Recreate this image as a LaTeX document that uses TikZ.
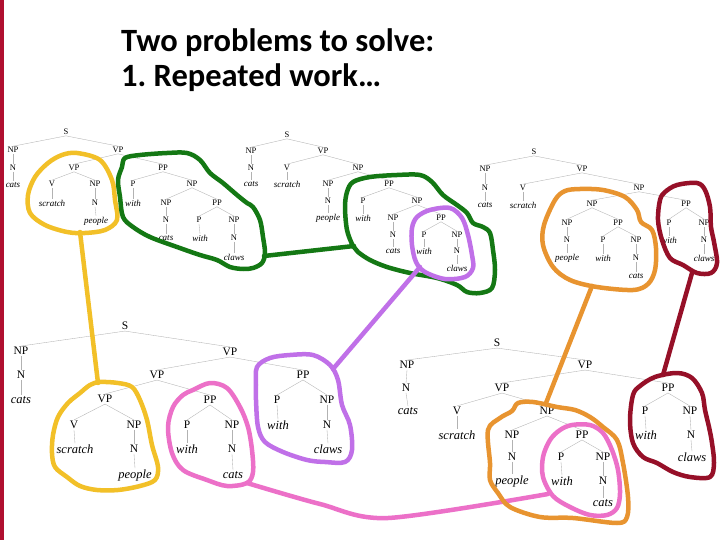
\documentclass[tikz,border=0pt]{standalone}
\usepackage{fontspec}
\setmainfont{Liberation Serif}
\newfontfamily\titlefont{Carlito}
\frenchspacing
\definecolor{barred}{RGB}{176,16,48}
\definecolor{cyel}{RGB}{242,192,40}
\definecolor{cgrn}{RGB}{20,120,20}
\definecolor{cpur}{RGB}{192,112,232}
\definecolor{cpnk}{RGB}{236,112,200}
\definecolor{corg}{RGB}{232,148,48}
\definecolor{cdrd}{RGB}{150,16,40}
\tikzset{
 lab/.style={inner sep=0.8pt, font=\fontsize{8.5}{9}\selectfont},
 wrd/.style={inner sep=0.8pt, font=\fontsize{9}{10}\selectfont\itshape},
 Lab/.style={inner sep=1pt, font=\fontsize{11.5}{12}\selectfont},
 Wrd/.style={inner sep=1pt, font=\fontsize{12.5}{13}\selectfont\itshape},
 edge/.style={draw=gray!60, line width=0.35pt},
 blob/.style={line width=4.5pt, line join=round, line cap=round},
 ttl/.style={anchor=base west, inner sep=0pt, font=\titlefont\bfseries\fontsize{32.5}{36}\selectfont}
}
\begin{document}
\begin{tikzpicture}[x=1pt,y=-1pt]
\useasboundingbox (0,0) rectangle (720,540);
\fill[white] (0,0) rectangle (720,540);
\fill[barred] (0,0) rectangle (4,540);
\node[ttl] (t1) at (121,52) {Two problems to solve:};
\node[ttl] (t2) at (121,87) {1. Repeated work\ldots};

% ---------- tree a ----------
\node[lab] (aS) at (66,132) {S};
\node[lab] (aNP) at (13,150) {NP};
\node[lab] (aVP) at (118,150) {VP};
\node[lab] (aN) at (13,168) {N};
\node[lab] (aVPb) at (74,168) {VP};
\node[lab] (aPP) at (163,168) {PP};
\node[wrd] (acats) at (13,185) {cats};
\node[lab] (aV) at (52,184) {V};
\node[lab] (aNPb) at (95,184) {NP};
\node[lab] (aP) at (133,184) {P};
\node[lab] (aNPc) at (192,184) {NP};
\node[wrd] (ascratch) at (52,203) {scratch};
\node[lab] (aNb) at (95,203) {N};
\node[wrd] (awith) at (133,203) {with};
\node[lab] (aNPd) at (166,203) {NP};
\node[lab] (aPPb) at (217,203) {PP};
\node[wrd] (apeople) at (96,221) {people};
\node[lab] (aNc) at (166,220) {N};
\node[lab] (aPb) at (199,220) {P};
\node[lab] (aNPe) at (234,220) {NP};
\node[wrd] (acatsb) at (166,238) {cats};
\node[wrd] (awithb) at (200,238) {with};
\node[lab] (aNd) at (234,238) {N};
\node[wrd] (aclaws) at (234,257) {claws};
\foreach \p/\c in {aS/aNP,aS/aVP,aNP/aN,aN/acats,aVP/aVPb,aVP/aPP,aVPb/aV,aVPb/aNPb,aV/ascratch,aNPb/aNb,aNb/apeople,aPP/aP,aPP/aNPc,aP/awith,aNPc/aNPd,aNPc/aPPb,aNPd/aNc,aNc/acatsb,aPPb/aPb,aPPb/aNPe,aPb/awithb,aNPe/aNd,aNd/aclaws}
 \draw[edge] (\p.south) -- (\c.north);

% ---------- tree b ----------
\node[lab] (bS) at (287,135) {S};
\node[lab] (bNP) at (251,151) {NP};
\node[lab] (bVP) at (323,151) {VP};
\node[lab] (bN) at (251,168) {N};
\node[lab] (bV) at (287,168) {V};
\node[lab] (bNPb) at (358,168) {NP};
\node[wrd] (bcats) at (251,184) {cats};
\node[wrd] (bscratch) at (287,184) {scratch};
\node[lab] (bNPc) at (328,184) {NP};
\node[lab] (bPP) at (389,184) {PP};
\node[lab] (bNb) at (328,201) {N};
\node[lab] (bP) at (363,201) {P};
\node[lab] (bNPd) at (417,201) {NP};
\node[wrd] (bpeople) at (328,218) {people};
\node[wrd] (bwith) at (363,218) {with};
\node[lab] (bNPe) at (393,218) {NP};
\node[lab] (bPPb) at (441,218) {PP};
\node[lab] (bNc) at (393,235) {N};
\node[lab] (bPb) at (424,235) {P};
\node[lab] (bNPf) at (457,235) {NP};
\node[wrd] (bcatsb) at (393,251) {cats};
\node[wrd] (bwithb) at (424,251) {with};
\node[lab] (bNd) at (457,251) {N};
\node[wrd] (bclaws) at (457,268) {claws};
\foreach \p/\c in {bS/bNP,bS/bVP,bNP/bN,bN/bcats,bVP/bV,bVP/bNPb,bV/bscratch,bNPb/bNPc,bNPb/bPP,bNPc/bNb,bNb/bpeople,bPP/bP,bPP/bNPd,bP/bwith,bNPd/bNPe,bNPd/bPPb,bNPe/bNc,bNc/bcatsb,bPPb/bPb,bPPb/bNPf,bPb/bwithb,bNPf/bNd,bNd/bclaws}
 \draw[edge] (\p.south) -- (\c.north);

% ---------- tree c ----------
\node[lab] (cS) at (534,152) {S};
\node[lab] (cNP) at (485,169) {NP};
\node[lab] (cVP) at (582,169) {VP};
\node[lab] (cN) at (485,188) {N};
\node[lab] (cV) at (523,188) {V};
\node[lab] (cNPb) at (639,188) {NP};
\node[wrd] (ccats) at (485,205) {cats};
\node[wrd] (cscratch) at (523,205) {scratch};
\node[lab] (cNPc) at (592,204) {NP};
\node[lab] (cPP) at (686,204) {PP};
\node[lab] (cNPd) at (567,223) {NP};
\node[lab] (cPPb) at (618,223) {PP};
\node[lab] (cP) at (669,223) {P};
\node[lab] (cNPe) at (704,223) {NP};
\node[lab] (cNb) at (567,240) {N};
\node[lab] (cPb) at (603,240) {P};
\node[lab] (cNPf) at (636,240) {NP};
\node[wrd] (cwith) at (669,240) {with};
\node[lab] (cNc) at (704,240) {N};
\node[wrd] (cpeople) at (567,258) {people};
\node[wrd] (cwithb) at (603,258) {with};
\node[lab] (cNd) at (636,258) {N};
\node[wrd] (cclaws) at (704,258) {claws};
\node[wrd] (ccatsb) at (636,276) {cats};
\foreach \p/\c in {cS/cNP,cS/cVP,cNP/cN,cN/ccats,cVP/cV,cVP/cNPb,cV/cscratch,cNPb/cNPc,cNPb/cPP,cNPc/cNPd,cNPc/cPPb,cNPd/cNb,cNb/cpeople,cPPb/cPb,cPPb/cNPf,cPb/cwithb,cNPf/cNd,cNd/ccatsb,cPP/cP,cPP/cNPe,cP/cwith,cNPe/cNc,cNc/cclaws}
 \draw[edge] (\p.south) -- (\c.north);

% ---------- tree d ----------
\node[Lab] (dS) at (125,326) {S};
\node[Lab] (dNP) at (21,351) {NP};
\node[Lab] (dVP) at (230,352) {VP};
\node[Lab] (dN) at (21,375) {N};
\node[Lab] (dVPb) at (157,375) {VP};
\node[Lab] (dPP) at (303,375) {PP};
\node[Wrd] (dcats) at (21,400) {cats};
\node[Lab] (dVPc) at (105,399) {VP};
\node[Lab] (dPPb) at (210,400) {PP};
\node[Lab] (dP) at (277,400) {P};
\node[Lab] (dNPb) at (327,400) {NP};
\node[Lab] (dV) at (74,425) {V};
\node[Lab] (dNPc) at (134,425) {NP};
\node[Lab] (dPb) at (187,425) {P};
\node[Lab] (dNPd) at (232,425) {NP};
\node[Wrd] (dwith) at (278,425) {with};
\node[Lab] (dNb) at (327,425) {N};
\node[Wrd] (dscratch) at (75,449) {scratch};
\node[Lab] (dNc) at (134,449) {N};
\node[Wrd] (dwithb) at (187,449) {with};
\node[Lab] (dNd) at (232,449) {N};
\node[Wrd] (dclaws) at (328,449) {claws};
\node[Wrd] (dpeople) at (135,475) {people};
\node[Wrd] (dcatsb) at (233,475) {cats};
\foreach \p/\c in {dS/dNP,dS/dVP,dNP/dN,dN/dcats,dVP/dVPb,dVP/dPP,dVPb/dVPc,dVPb/dPPb,dVPc/dV,dVPc/dNPc,dV/dscratch,dNPc/dNc,dNc/dpeople,dPPb/dPb,dPPb/dNPd,dPb/dwithb,dNPd/dNd,dNd/dcatsb,dPP/dP,dPP/dNPb,dP/dwith,dNPb/dNb,dNb/dclaws}
 \draw[edge] (\p.south) -- (\c.north);

% ---------- tree e ----------
\node[Lab] (eS) at (497,343) {S};
\node[Lab] (eNP) at (407,365) {NP};
\node[Lab] (eVP) at (585,365) {VP};
\node[Lab] (eN) at (406,388) {N};
\node[Lab] (eVPb) at (502,388) {VP};
\node[Lab] (ePP) at (668,388) {PP};
\node[Wrd] (ecats) at (408,411) {cats};
\node[Lab] (eV) at (457,411) {V};
\node[Lab] (eNPb) at (547,411) {NP};
\node[Lab] (eP) at (645,411) {P};
\node[Lab] (eNPc) at (690,411) {NP};
\node[Wrd] (escratch) at (457,435) {scratch};
\node[Lab] (eNPd) at (512,435) {NP};
\node[Lab] (ePPb) at (582,435) {PP};
\node[Wrd] (ewith) at (646,435) {with};
\node[Lab] (eNb) at (691,435) {N};
\node[Lab] (eNc) at (512,457) {N};
\node[Lab] (ePb) at (561,457) {P};
\node[Lab] (eNPe) at (603,457) {NP};
\node[Wrd] (eclaws) at (692,457) {claws};
\node[Wrd] (epeople) at (512,481) {people};
\node[Wrd] (ewithb) at (562,481) {with};
\node[Lab] (eNd) at (603,481) {N};
\node[Wrd] (ecatsb) at (603,503) {cats};
\foreach \p/\c in {eS/eNP,eS/eVP,eNP/eN,eN/ecats,eVP/eVPb,eVP/ePP,eVPb/eV,eVPb/eNPb,eV/escratch,eNPb/eNPd,eNPb/ePPb,eNPd/eNc,eNc/epeople,ePPb/ePb,ePPb/eNPe,ePb/ewithb,eNPe/eNd,eNd/ecatsb,ePP/eP,ePP/eNPc,eP/ewith,eNPc/eNb,eNb/eclaws}
 \draw[edge] (\p.south) -- (\c.north);

% ---------- blobs ----------
% yellow
\draw[blob,cyel] plot[smooth cycle,tension=0.55] coordinates {(77,153) (100,160) (112,180) (115,200) (117,220) (105,230) (85,233) (67,232) (45,225) (30,213) (28,195) (35,177) (48,163) (62,155)};
\draw[blob,cyel] plot[smooth cycle,tension=0.55] coordinates {(100,382) (118,383) (132,387) (140,400) (147,420) (152,445) (158,467) (155,480) (140,486) (118,490) (97,490) (80,486) (67,477) (55,467) (52,453) (53,435) (58,417) (68,403) (80,393) (90,385)};
\coordinate (y1) at (80,232);
\coordinate (y2) at (98,383);
\draw[blob,cyel] (y1) -- (y2);
% green
\draw[blob,cgrn] plot[smooth cycle,tension=0.55] coordinates {(122,167) (125,158) (140,155) (167,153) (187,153) (200,160) (210,173) (223,183) (237,195) (247,203) (253,207) (260,220) (263,237) (265,253) (262,263) (253,268) (243,269) (230,267) (217,260) (200,255) (177,247) (150,237) (133,227) (123,217) (120,197) (118,180)};
\draw[blob,cgrn] plot[smooth cycle,tension=0.55] coordinates {(353,246) (347,230) (345,207) (347,192) (353,182) (370,177) (397,175) (420,175) (432,182) (443,195) (457,205) (467,213) (473,223) (483,227) (490,233) (493,250) (495,270) (492,288) (480,293) (467,292) (457,285) (437,278) (410,273) (387,267) (370,260) (358,252)};
\coordinate (g1) at (264,256);
\coordinate (g2) at (354,246);
\draw[blob,cgrn] (g1) -- (g2);
% purple
\draw[blob,cpur] plot[smooth cycle,tension=0.55] coordinates {(417,217) (430,210) (450,208) (462,218) (468,235) (472,255) (473,268) (465,277) (445,279) (425,272) (416,262) (412,245) (412,228)};
\draw[blob,cpur] plot[smooth cycle,tension=0.55] coordinates {(257,367) (270,358) (290,355) (313,355) (330,365) (338,380) (342,405) (350,425) (352,450) (345,462) (325,462) (307,460) (283,452) (265,442) (258,427) (256,400) (256,385)};
\coordinate (p1) at (420,267);
\coordinate (p2) at (333,369);
\draw[blob,cpur] (p1) -- (p2);
% pink
\draw[blob,cpnk] plot[smooth cycle,tension=0.55] coordinates {(193,390) (210,383) (227,388) (240,407) (248,427) (252,450) (253,472) (247,483) (227,486) (207,480) (183,470) (172,453) (168,427) (173,407) (183,395)};
\draw[blob,cpnk] plot[smooth cycle,tension=0.55] coordinates {(553,496) (543,477) (543,457) (550,440) (560,430) (572,425) (590,425) (603,433) (612,450) (618,470) (620,493) (617,508) (607,515) (590,515) (570,507)};
\coordinate (k1) at (247,483);
\coordinate (k2) at (320,504);
\coordinate (k3) at (388,518);
\coordinate (k4) at (548,494);
\draw[blob,cpnk] plot[smooth,tension=0.5] coordinates {(k1) (k2) (k3) (k4)};
% orange
\draw[blob,corg] plot[smooth cycle,tension=0.55] coordinates {(555,200) (565,191) (580,189) (603,190) (625,197) (637,210) (641,222) (652,230) (656,248) (655,270) (648,284) (633,290) (597,287) (570,280) (553,267) (543,245) (544,225)};
\draw[blob,corg] plot[smooth cycle,tension=0.55] coordinates {(490,463) (488,430) (500,418) (512,411) (518,403) (533,402) (557,407) (575,410) (590,417) (603,427) (617,440) (623,463) (628,497) (627,517) (617,523) (573,518) (540,517) (510,507) (498,493) (490,480)};
\coordinate (o1) at (592,286);
\coordinate (o2) at (546,403);
\draw[blob,corg] (o1) -- (o2);
% dark red
\draw[blob,cdrd] plot[smooth cycle,tension=0.55] coordinates {(660,200) (665,192) (677,185) (697,183) (705,190) (710,207) (711,227) (714,242) (717,263) (711,273) (697,273) (683,265) (670,258) (662,240) (658,220)};
\draw[blob,cdrd] plot[smooth cycle,tension=0.55] coordinates {(633,395) (640,386) (655,377) (677,373) (692,378) (702,393) (705,410) (709,427) (712,443) (714,463) (710,477) (690,477) (673,472) (657,463) (643,457) (633,443) (630,420)};
\coordinate (r1) at (692,273);
\coordinate (r2) at (663,375);
\draw[blob,cdrd] (r1) -- (r2);
\end{tikzpicture}
\end{document}
